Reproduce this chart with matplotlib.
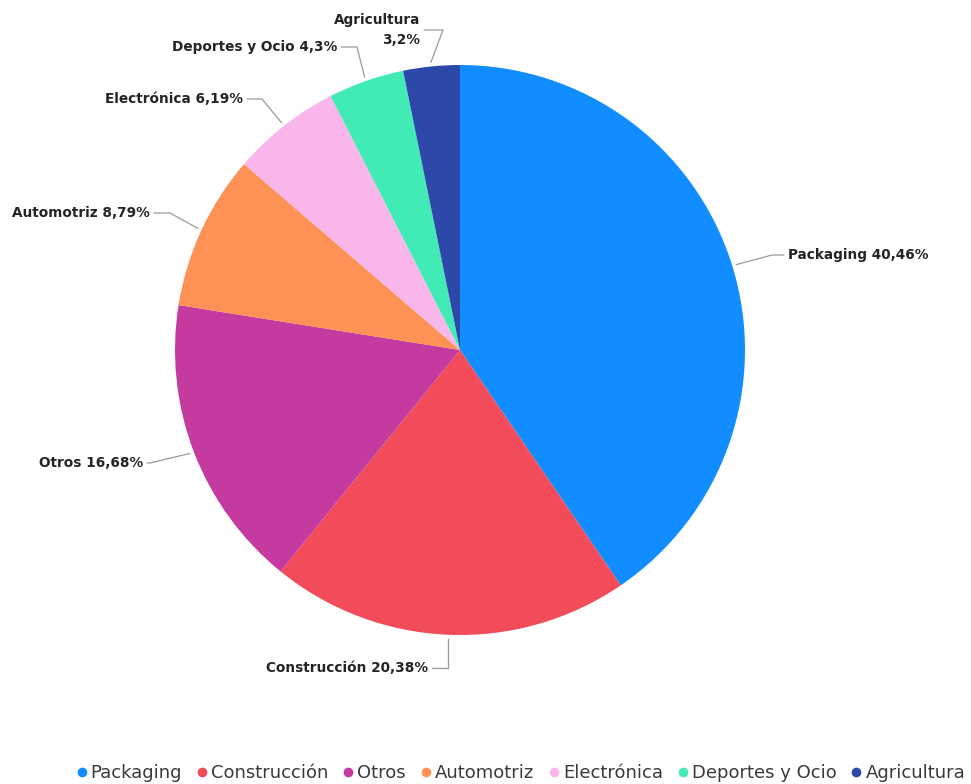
import numpy as np
import matplotlib.pyplot as plt
from matplotlib.lines import Line2D

sectors = ['Packaging', 'Construcción', 'Otros', 'Automotriz',
           'Electrónica', 'Deportes y Ocio', 'Agricultura']
shares = [40.46, 20.38, 16.68, 8.79, 6.19, 4.3, 3.2]
share_text = ['40,46%', '20,38%', '16,68%', '8,79%', '6,19%', '4,3%', '3,2%']
colors = ['#118DFF', '#F24B5A', '#C43A9E', '#FE9156',
          '#F9B6EA', '#42EBB5', '#2E48AA']

W, H = 971, 784
CX, CY, R = 460, 350, 285

fig = plt.figure(figsize=(W / 100, H / 100), dpi=100)
ax = fig.add_axes([(CX - R) / W, (H - CY - R) / H, 2 * R / W, 2 * R / H])
wedges, _ = ax.pie(shares, colors=colors, startangle=90, counterclock=False,
                   radius=1.0, wedgeprops=dict(linewidth=0))
ax.set_xlim(-1, 1)
ax.set_ylim(-1, 1)
ax.set_aspect('equal')
ax.axis('off')


def px(x, y):
    # pixel position -> data coords of the pie axes
    return (x - CX) / R, (CY - y) / R


# label text anchor (px), horizontal alignment, elbow point of the leader (px)
label_layout = [
    ((788, 255), 'left', (772, 255)),
    ((428, 668), 'right', None),
    ((143, 463), 'right', (150, 463)),
    ((150, 213), 'right', (170, 213)),
    ((243, 99), 'right', (262, 99)),
    ((337, 47), 'right', (357, 47)),
    ((420, 30), 'right', (443, 30)),
]

for w, name, pct, (tpos, ha, elbow) in zip(wedges, sectors, share_text, label_layout):
    mid = np.deg2rad((w.theta1 + w.theta2) / 2)
    ex, ey = 1.015 * np.cos(mid), 1.015 * np.sin(mid)
    tx, ty = px(*tpos)
    gap = 0.015 if ha == 'right' else -0.015
    if name == 'Construcción':
        bx, by = ex, ty
    else:
        bx, by = px(*elbow)
    xs, ys = zip(*[(ex, ey), (bx, by), (tx + gap, ty)])
    ax.plot(xs, ys, color='#9a9a9a', lw=0.9, clip_on=False)
    txt = f'{name}\n{pct}' if name == 'Agricultura' else f'{name} {pct}'
    ax.text(tx, ty, txt, ha=ha, va='center',
            fontsize=9.8, fontweight='bold', color='#252423',
            linespacing=1.55, multialignment='right')

handles = [Line2D([], [], marker='o', linestyle='', markersize=7,
                  markerfacecolor=c, markeredgewidth=0) for c in colors]
fig.legend(handles, sectors, loc='lower right', bbox_to_anchor=(1.007, -0.014),
           ncol=len(sectors), frameon=False, fontsize=13,
           handletextpad=0.0, columnspacing=0.6, handlelength=1.0,
           borderaxespad=0.3, labelcolor='#3a3a3a')

fig.savefig('out.png', dpi=100, facecolor='white')
